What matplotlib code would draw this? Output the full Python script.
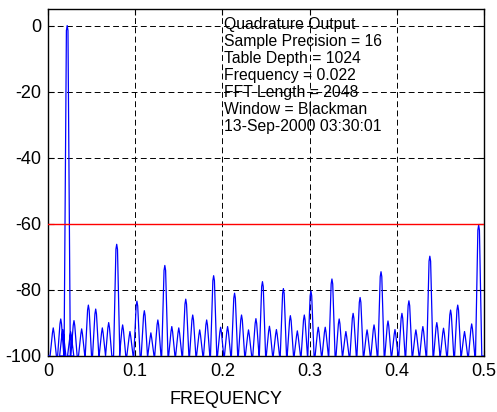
import matplotlib
matplotlib.use("Agg")
import matplotlib.pyplot as plt
import numpy as np

# spectral peaks (normalized frequency, dB)
peak_freq = [0.006, 0.0146, 0.0169, 0.022, 0.026, 0.0298, 0.0386, 0.0463,
             0.0547, 0.0623, 0.0696, 0.0788, 0.0856, 0.094, 0.102, 0.1105,
             0.118, 0.126, 0.134, 0.142, 0.150, 0.158, 0.166, 0.174,
             0.182, 0.190, 0.198, 0.206, 0.214, 0.222, 0.230, 0.2385,
             0.246, 0.254, 0.262, 0.270, 0.278, 0.286, 0.294, 0.3016,
             0.310, 0.318, 0.3257, 0.334, 0.3417, 0.350, 0.358, 0.366,
             0.374, 0.382, 0.390, 0.398, 0.406, 0.414, 0.422, 0.430,
             0.438, 0.446, 0.4537, 0.4618, 0.470, 0.4778, 0.486, 0.494]
peak_db = [-91.5, -88.8, -92.0, 0.0, -92.7, -89.3, -91.8, -84.6,
           -85.8, -91.5, -89.9, -66.2, -90.6, -92.6, -83.4, -86.3,
           -93.0, -89.1, -72.6, -91.1, -91.5, -82.8, -87.6, -92.1,
           -89.1, -75.7, -91.3, -91.1, -81.0, -87.6, -92.1, -88.7,
           -77.5, -91.0, -92.0, -79.6, -87.8, -92.4, -87.6, -80.3,
           -91.3, -91.3, -76.7, -88.8, -92.6, -87.1, -82.3, -92.1,
           -90.6, -74.5, -89.4, -92.0, -87.1, -83.3, -92.1, -91.1,
           -69.8, -89.9, -91.6, -86.1, -84.6, -92.6, -90.3, -60.4]
floor_db = -100
limit_db = -60

x_ticks = [0, 0.1, 0.2, 0.3, 0.4, 0.5]
y_ticks = [0, -20, -40, -60, -80, -100]

info_lines = ["Quadrature Output", "Sample Precision = 16",
              "Table Depth = 1024", "Frequency = 0.022",
              "FFT Length = 2048", "Window = Blackman",
              "13-Sep-2000 03:30:01"]

plt.rcParams["font.family"] = ["Liberation Sans", "DejaVu Sans"]
plt.rcParams["axes.unicode_minus"] = False

# each peak drawn as a narrow spike rising from the noise floor
half_w = 0.0036
xs, ys = [0.0], [floor_db]
for f, d in zip(peak_freq, peak_db):
    xs += [f - half_w, f - half_w * 0.25, f, f + half_w * 0.25, f + half_w]
    ys += [floor_db, d - 1.5, d, d - 1.5, floor_db]
xs.append(0.5)
ys.append(floor_db)

fig = plt.figure(figsize=(4.97, 4.12), dpi=100)
ax = fig.add_axes([0.0966, 0.136, 0.877, 0.842])

ax.plot(xs, ys, color="#0000ff", lw=0.9, zorder=3)
ax.axhline(limit_db, color="#ff0000", lw=1.0, zorder=4)

ax.set_xlim(0, 0.5)
ax.set_ylim(-100, 5)
ax.set_xticks(x_ticks)
ax.set_xticklabels([f"{t:g}" for t in x_ticks])
ax.set_yticks(y_ticks)
ax.set_yticklabels([f"{t:g}" for t in y_ticks])
ax.tick_params(direction="in", top=True, right=True, length=4,
               labelsize=13, pad=5)
for s in ax.spines.values():
    s.set_linewidth(1.0)

ax.grid(True, color="black", lw=0.7, linestyle=(0, (6, 3.5)))

ax.text(0.2015, 2.6, "\n".join(info_lines), ha="left", va="top",
        fontsize=11.3, linespacing=1.17, zorder=5)

fig.text(226 / 497, 1 - 399 / 412, "FREQUENCY", ha="center", va="center",
         fontsize=13)

fig.savefig("out.png", dpi=100)
